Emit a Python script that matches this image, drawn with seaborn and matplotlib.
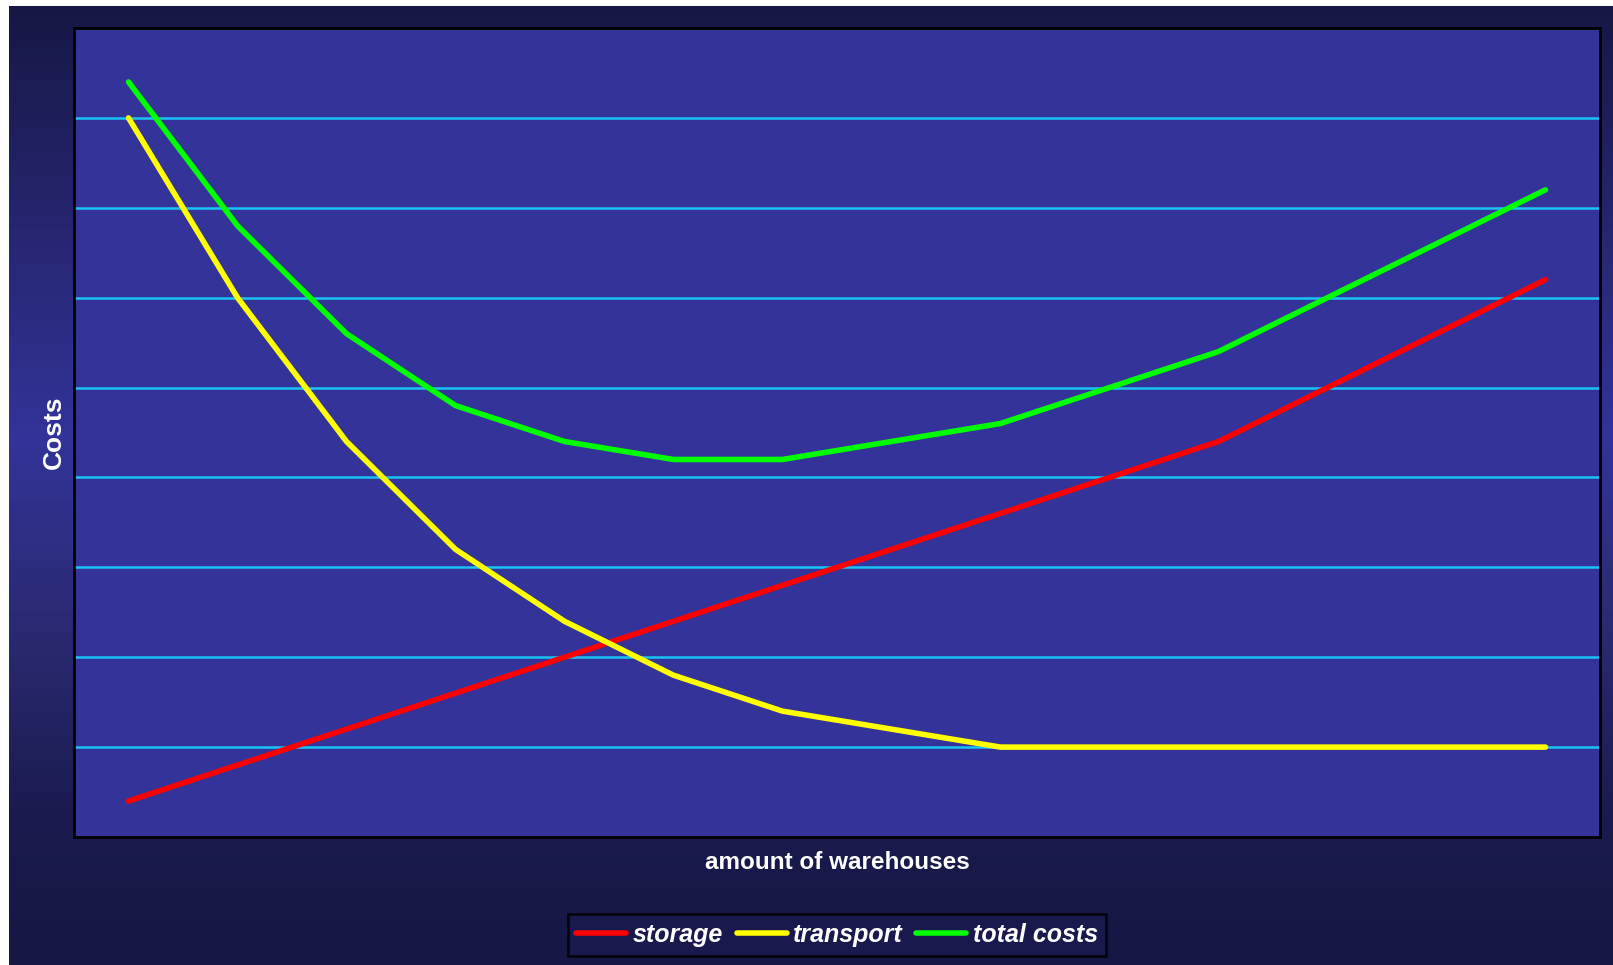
import numpy as np
import pandas as pd
import matplotlib
matplotlib.use("Agg")
import matplotlib.pyplot as plt
from matplotlib.colors import LinearSegmentedColormap
import seaborn as sns

# warehouses 1..14 (no tick labels shown in the chart)
warehouses = list(range(1, 15))
storage = [0.4, 0.8, 1.2, 1.6, 2.0, 2.4, 2.8, 3.2, 3.6, 4.0, 4.4, 5.0, 5.6, 6.2]
transport = [8.0, 6.0, 4.4, 3.2, 2.4, 1.8, 1.4, 1.2, 1.0, 1.0, 1.0, 1.0, 1.0, 1.0]
total_costs = [8.4, 6.8, 5.6, 4.8, 4.4, 4.2, 4.2, 4.4, 4.6, 5.0, 5.4, 6.0, 6.6, 7.2]

series_names = ["storage", "transport", "total costs"]
series_colors = ["#ff0000", "#ffff00", "#00ff00"]

df = pd.DataFrame({
    "warehouses": warehouses * 3,
    "costs": storage + transport + total_costs,
    "series": [s for s in series_names for _ in warehouses],
})

sns.set_theme(style="white")
plt.rcParams["font.family"] = ["Liberation Sans", "DejaVu Sans"]

fig = plt.figure(figsize=(16.13, 9.65), dpi=100)
fig.patch.set_facecolor("white")

# gradient background (dark navy -> blue -> dark navy)
bg = fig.add_axes([9 / 1613, 0, 1 - 9 / 1613, 1 - 6 / 965], zorder=-10)
cmap = LinearSegmentedColormap.from_list(
    "bg", [(0, "#161744"), (0.25, "#272774"), (0.45, "#333399"),
           (0.65, "#2a2a72"), (0.85, "#1a1a4e"), (1, "#161744")])
grad = np.linspace(0, 1, 256).reshape(-1, 1)
bg.imshow(grad, aspect="auto", cmap=cmap, extent=[0, 1, 0, 1])
bg.set_axis_off()

ax = fig.add_axes([74 / 1613, 1 - 837 / 965, (1600 - 74) / 1613, (837 - 28) / 965])
ax.set_facecolor("#333399")

sns.lineplot(data=df, x="warehouses", y="costs", hue="series",
             palette=dict(zip(series_names, series_colors)),
             linewidth=4, ax=ax, legend=False, sort=False)
for line in ax.get_lines():
    line.set_solid_capstyle("round")
    line.set_solid_joinstyle("round")

ax.set_xlim(0.5, 14.5)
ax.set_ylim(0, 9)
ax.set_yticks(range(1, 9))
ax.yaxis.grid(True, color="#19c3f5", linewidth=1.8)
ax.xaxis.grid(False)
ax.set_axisbelow(True)
ax.set_xticks([])
ax.tick_params(axis="y", left=False, labelleft=False)
for sp in ax.spines.values():
    sp.set_color("black")
    sp.set_linewidth(2)

ax.set_xlabel("amount of warehouses", color="white", fontsize=17.5,
              fontweight="bold", labelpad=10)
ax.set_ylabel("Costs", color="white", fontsize=19, fontweight="bold", labelpad=6)

handles = [plt.Line2D([], [], color=c, linewidth=4, solid_capstyle="round")
           for c in series_colors]
leg = fig.legend(handles, series_names, loc="center", bbox_to_anchor=(837 / 1613, 1 - 935 / 965),
                 ncol=3, frameon=True, fancybox=False, handlelength=2.0,
                 handletextpad=0.25, columnspacing=0.55, borderpad=0.35,
                 prop={"size": 18, "weight": "bold", "style": "italic"})
leg.get_frame().set_facecolor("#1a1a50")
leg.get_frame().set_edgecolor("black")
leg.get_frame().set_linewidth(2)
for t in leg.get_texts():
    t.set_color("white")

fig.savefig("out.png", dpi=100, facecolor=fig.get_facecolor())
